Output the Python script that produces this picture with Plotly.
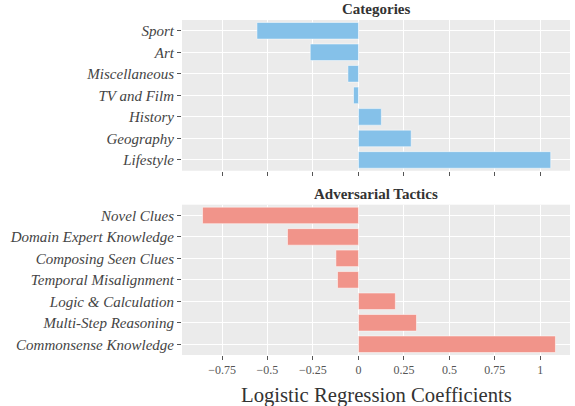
import plotly.graph_objects as go
from plotly.subplots import make_subplots

cat_labels = ["Sport", "Art", "Miscellaneous", "TV and Film", "History", "Geography", "Lifestyle"]
cat_values = [-0.558, -0.265, -0.058, -0.027, 0.126, 0.290, 1.057]

tac_labels = ["Novel Clues", "Domain Expert Knowledge", "Composing Seen Clues",
              "Temporal Misalignment", "Logic & Calculation", "Multi-Step Reasoning",
              "Commonsense Knowledge"]
tac_values = [-0.857, -0.390, -0.124, -0.115, 0.203, 0.319, 1.083]

x_ticks = [-0.75, -0.5, -0.25, 0, 0.25, 0.5, 0.75, 1]
x_ticktext = ["\u22120.75", "\u22120.5", "\u22120.25", "0", "0.25", "0.5", "0.75", "1"]

FONT = "Liberation Serif"

fig = make_subplots(rows=2, cols=1, shared_xaxes=False, vertical_spacing=0.096)

fig.add_trace(go.Bar(x=cat_values, y=cat_labels, orientation="h",
                     marker=dict(color="#85C1E9", line=dict(color="rgba(255,255,255,0.5)", width=1)),
                     width=0.77, showlegend=False), row=1, col=1)
fig.add_trace(go.Bar(x=tac_values, y=tac_labels, orientation="h",
                     marker=dict(color="#F1948A", line=dict(color="rgba(255,255,255,0.5)", width=1)),
                     width=0.77, showlegend=False), row=2, col=1)

xr = [-0.97, 1.163]
common_x = dict(range=xr, tickvals=x_ticks, ticktext=x_ticktext, showgrid=True, gridcolor="white",
                gridwidth=1.2, zeroline=False, ticks="outside", ticklen=4, tickcolor="#555",
                tickfont=dict(family=FONT, size=12, color="#555"), showline=False, automargin=False)
fig.update_xaxes(**common_x)
fig.update_xaxes(showticklabels=False, row=1, col=1)

common_y = dict(showgrid=True, gridcolor="white", gridwidth=1.2, zeroline=False, ticks="outside",
                ticklen=4, tickcolor="#555", automargin=False,
                tickfont=dict(family=FONT, size=15, color="#444", style="italic"))
fig.update_yaxes(**common_y)
fig.update_yaxes(categoryorder="array", categoryarray=cat_labels[::-1], row=1, col=1)
fig.update_yaxes(categoryorder="array", categoryarray=tac_labels[::-1], row=2, col=1)

fig.update_layout(
    width=575, height=406,
    margin=dict(l=182, r=5, t=20, b=51, autoexpand=False),
    paper_bgcolor="white", plot_bgcolor="#EBEBEB",
    font=dict(family=FONT, color="#444"),
)
fig.layout.yaxis.domain = [0.5501, 1.0]
fig.layout.yaxis2.domain = [0.0, 0.4487]

fig.add_annotation(text="<b>Categories</b>", xref="paper", yref="paper", x=0.5, y=1.0,
                   yanchor="bottom", yshift=1, showarrow=False, font=dict(family=FONT, size=15, color="#333"))
fig.add_annotation(text="<b>Adversarial Tactics</b>", xref="paper", yref="paper", x=0.5, y=0.4487,
                   yanchor="bottom", yshift=1, showarrow=False, font=dict(family=FONT, size=15, color="#333"))
fig.add_annotation(text="Logistic Regression Coefficients", xref="paper", yref="paper", x=0.5, y=0,
                   yanchor="middle", yshift=-40, showarrow=False, font=dict(family=FONT, size=20.7, color="#333"))

fig.write_html("out.html", config={"displayModeBar": False},
               post_script="document.body.style.margin='0';document.body.style.overflow='hidden';")
